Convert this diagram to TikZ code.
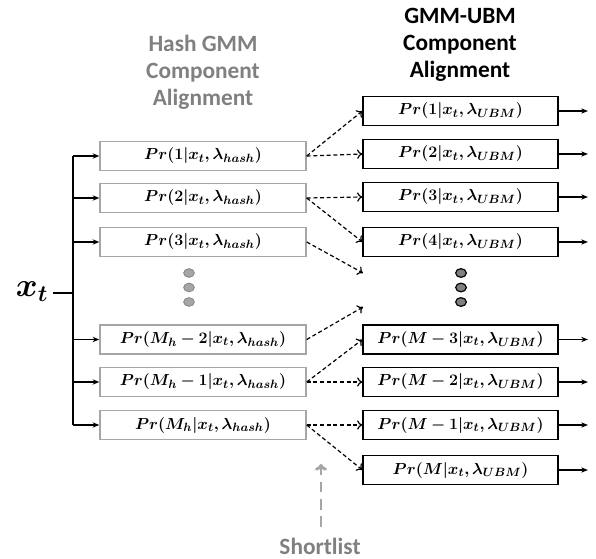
\documentclass[tikz,border=0pt]{standalone}
\usepackage{fontspec}
\setmainfont{Carlito}
\usepackage{amsmath,bm}
\usetikzlibrary{arrows.meta,shapes.geometric}
\definecolor{hgray}{RGB}{166,166,166}
\definecolor{tgray}{RGB}{128,128,128}
\definecolor{dgray}{RGB}{128,128,128}
\newcommand{\Pb}[1]{$\bm{Pr(#1|x_t,\lambda_{hash})}$}
\newcommand{\Pu}[1]{$\bm{Pr(#1|x_t,\lambda_{UBM})}$}
\begin{document}
\begin{tikzpicture}[x=0.75pt,y=-0.75pt,
    hbox/.style={draw=hgray, line width=1.1pt, minimum width=154.5pt, minimum height=22pt, inner sep=0pt, font=\fontsize{12.7}{15}\selectfont},
    ubox/.style={draw=black, line width=1.1pt, minimum width=146pt, minimum height=21.5pt, inner sep=0pt, font=\fontsize{12.7}{15}\selectfont},
    feed/.style={line width=1.1pt, -{Stealth[length=5pt,width=4pt]}},
    link/.style={line width=0.9pt, dash pattern=on 3pt off 2pt, -{To[length=4pt,width=7pt]}},
    hdot/.style={ellipse, draw=hgray!80!black, fill=hgray, line width=0.6pt, minimum width=8pt, minimum height=6.5pt, inner sep=0pt},
    udot/.style={ellipse, draw=black, fill=dgray, line width=0.9pt, minimum width=8pt, minimum height=6.5pt, inner sep=0pt},
    head/.style={align=center, font=\bfseries\fontsize{17.5}{20.3}\selectfont}]
\useasboundingbox (0,0) rectangle (596,559);

% titles
\node [head, text=tgray] (T1) at (203,72) {Hash GMM\\Component\\Alignment};
\node [head] (T2) at (460,45) {GMM-UBM\\Component\\Alignment};

% input
\node [font=\fontsize{24}{26}\selectfont] (X) at (32,292) {$\bm{x_t}$};
\coordinate (J) at (73,293);

% hash GMM components
\node [hbox] (H1) at (203,156) {\Pb{1}};
\node [hbox] (H2) at (203,198) {\Pb{2}};
\node [hbox] (H3) at (203,242) {\Pb{3}};
\node [hbox] (H4) at (203,339.5) {\Pb{M_h-2}};
\node [hbox] (H5) at (203,382) {\Pb{M_h-1}};
\node [hbox] (H6) at (203,425) {\Pb{M_h}};

% GMM-UBM components
\node [ubox] (U1) at (460.5,111) {\Pu{1}};
\node [ubox] (U2) at (460.5,154) {\Pu{2}};
\node [ubox] (U3) at (460.5,197) {\Pu{3}};
\node [ubox] (U4) at (460.5,242) {\Pu{4}};
\node [ubox] (U5) at (460.5,339.5) {\Pu{M-3}};
\node [ubox] (U6) at (460.5,382) {\Pu{M-2}};
\node [ubox] (U7) at (460.5,425) {\Pu{M-1}};
\node [ubox] (U8) at (460.5,470) {\Pu{M}};

% dots
\node [hdot] (D1) at (189,273) {};
\node [hdot] (D2) at (189,287.5) {};
\node [hdot] (D3) at (189,302) {};
\node [udot] (E1) at (461,273) {};
\node [udot] (E2) at (461,287.5) {};
\node [udot] (E3) at (461,302) {};

% input tree
\draw [line width=1.1pt] (X.east |- J) -- (J);
\draw [line width=1.1pt] (73,156) -- (73,425);
\foreach \n in {H1,H2,H3,H4,H5,H6}
    \draw [feed] (73,0 |- \n.west) -- (\n.west);

% outputs
\foreach \n in {U1,U2,U3,U4,U5,U6,U7,U8} {
    \coordinate (O\n) at ([xshift=22pt]\n.east);
    \draw [feed] (\n.east) -- (O\n);
}

% shortlist links
\coordinate (F1) at (363,273);
\coordinate (F2) at (363,307);
\draw [link] (H1.east) -- (U1.west); \draw [link] (H1.east) -- (U2.west);
\draw [link] (H2.east) -- (U3.west); \draw [link] (H2.east) -- (U4.west);
\draw [link] (H3.east) -- (F1);
\draw [link] (H4.east) -- (F2);
\draw [link] (H5.east) -- (U5.west); \draw [link] (H5.east) -- (U6.west);
\draw [link] (H6.east) -- (U7.west); \draw [link] (H6.east) -- (U8.west);

% shortlist
\node [font=\bfseries\fontsize{17.5}{20}\selectfont, text=tgray] (S) at (320,546) {Shortlist};
\coordinate (S0) at (321,527);
\coordinate (S1) at (321,464);
\draw [draw=hgray, line width=2.2pt, dash pattern=on 8pt off 5pt, -{To[length=5pt,width=9pt]}] (S0) -- (S1);
\end{tikzpicture}
\end{document}
